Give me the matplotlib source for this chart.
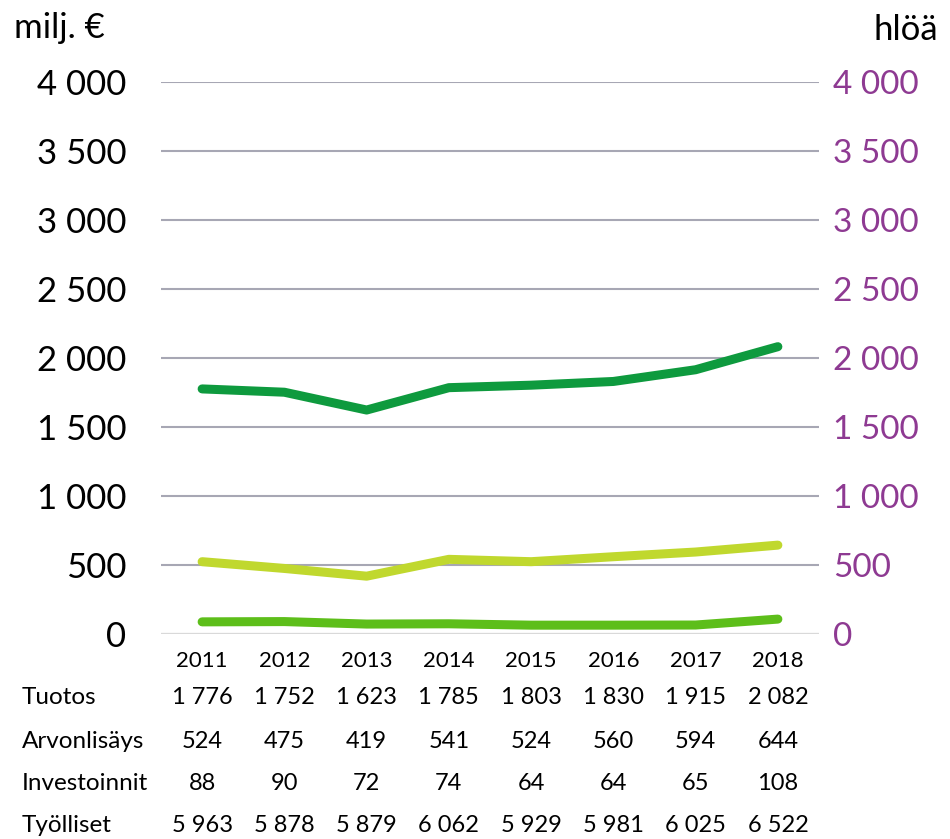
import matplotlib.pyplot as plt
from matplotlib.transforms import blended_transform_factory

plt.rcParams['font.family'] = ['Lato', 'DejaVu Sans']

years = ['2011', '2012', '2013', '2014', '2015', '2016', '2017', '2018']
tuotos = [1776, 1752, 1623, 1785, 1803, 1830, 1915, 2082]
arvonlisays = [524, 475, 419, 541, 524, 560, 594, 644]
investoinnit = [88, 90, 72, 74, 64, 64, 65, 108]
tyolliset = [5963, 5878, 5879, 6062, 5929, 5981, 6025, 6522]

row_names = ['Tuotos', 'Arvonlisäys', 'Investoinnit', 'Työlliset']
rows = [tuotos, arvonlisays, investoinnit, tyolliset]


def fmt(v):
    return f'{v:,}'.replace(',', ' ')


fig = plt.figure(figsize=(9.5, 8.39), dpi=100)
ax = fig.add_axes([161 / 950, 1 - 634 / 839, 658 / 950, 552 / 839])
x = range(len(years))

ax.plot(x, tuotos, color='#0E9A3E', lw=6.5, solid_capstyle='round', zorder=3)
ax.plot(x, arvonlisays, color='#C0D82E', lw=6.5, solid_capstyle='round', zorder=3)
ax.plot(x, investoinnit, color='#5DBE1A', lw=6.5, solid_capstyle='round', zorder=3)

ax.set_xlim(-0.5, 7.5)
ax.set_ylim(0, 4000)
ticks = range(0, 4001, 500)
ax.set_yticks(ticks)
ax.set_yticklabels([fmt(t) for t in ticks], fontsize=25)
ax.tick_params(axis='y', length=0, pad=25)
ax.set_xticks(list(x))
ax.set_xticklabels(years, fontsize=16)
ax.tick_params(axis='x', length=0, pad=12)
ax.grid(axis='y', color='#A7A7B4', lw=1.5)
ax.set_axisbelow(True)
for s in ax.spines.values():
    s.set_visible(False)
ax.axhline(0, color='#D9D9D9', lw=1.5, zorder=1)

ax2 = ax.twinx()
ax2.set_ylim(0, 4000)
ax2.set_yticks(ticks)
ax2.set_yticklabels([fmt(t) for t in ticks], fontsize=24, color='#8E3A92')
ax2.tick_params(axis='y', length=0, pad=10)
for s in ax2.spines.values():
    s.set_visible(False)

fig.text(14 / 950, 1 - 28 / 839, 'milj. €', fontsize=25, va='center')
fig.text(938 / 950, 1 - 30 / 839, 'hlöä', fontsize=25, va='center', ha='right')

trans = blended_transform_factory(ax.transData, fig.transFigure)
row_y = [698, 741, 784, 826]
for name, vals, yy in zip(row_names, rows, row_y):
    fy = 1 - yy / 839
    fig.text(22 / 950, fy, name, fontsize=17.5, va='center')
    for i, v in enumerate(vals):
        fig.text(i, fy, fmt(v), fontsize=17, va='center', ha='center', transform=trans)

fig.savefig('out.png', dpi=100)
